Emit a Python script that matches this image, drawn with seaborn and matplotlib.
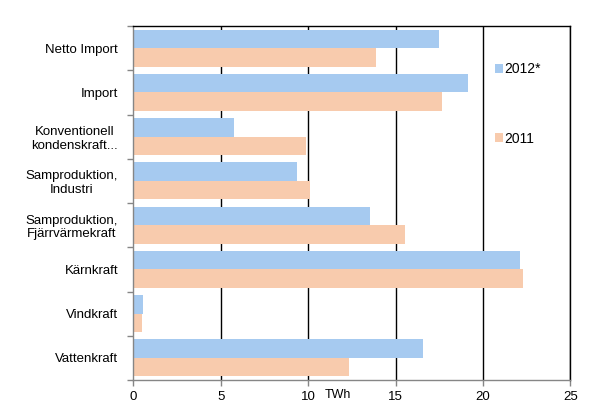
import matplotlib
matplotlib.use("Agg")
import matplotlib.pyplot as plt
import pandas as pd
import seaborn as sns

categories = [
    "Netto Import",
    "Import",
    "Konventionell\nkondenskraft...",
    "Samproduktion,\nIndustri",
    "Samproduktion,\nFjärrvärmekraft",
    "Kärnkraft",
    "Vindkraft",
    "Vattenkraft",
]
values_2012 = [17.5, 19.15, 5.75, 9.35, 13.55, 22.1, 0.55, 16.6]
values_2011 = [13.9, 17.65, 9.9, 10.1, 15.55, 22.3, 0.5, 12.35]
series = ["2012*", "2011"]
colors = ["#A6CAF0", "#F8CBAD"]
x_ticks = [0, 5, 10, 15, 20, 25]

df = pd.DataFrame({
    "category": categories * 2,
    "value": values_2012 + values_2011,
    "year": [series[0]] * len(categories) + [series[1]] * len(categories),
})

sns.set_style("white")
plt.rcParams["font.family"] = ["Liberation Sans", "DejaVu Sans"]
plt.rcParams["text.color"] = "black"
plt.rcParams["xtick.labelcolor"] = "black"
plt.rcParams["ytick.labelcolor"] = "black"

fig = plt.figure(figsize=(6.07, 4.18), dpi=100)
ax = fig.add_axes([0.2196, 0.0909, 0.72, 0.8469])

sns.barplot(data=df, y="category", x="value", hue="year", hue_order=series,
            palette=colors, orient="h", width=0.84, saturation=1,
            linewidth=0, ax=ax)

ax.set_xlim(0, 25)
ax.set_xticks(x_ticks)
ax.set_xlabel("")
ax.set_ylabel("")

# vertical black gridlines behind the bars
ax.set_axisbelow(True)
ax.xaxis.grid(True, color="black", linewidth=1)
ax.yaxis.grid(False)
ax.xaxis.get_gridlines()[0].set_visible(False)

for side in ["top", "right"]:
    ax.spines[side].set_visible(True)
    ax.spines[side].set_color("black")
    ax.spines[side].set_linewidth(1)
for side in ["left", "bottom"]:
    ax.spines[side].set_color("#868686")
    ax.spines[side].set_linewidth(1)

# y ticks sit on the category boundaries
ax.set_yticks([i - 0.5 for i in range(len(categories) + 1)], minor=True)
ax.tick_params(axis="y", which="major", length=0, pad=11, labelsize=9.5,
               labelcolor="black")
ax.tick_params(axis="y", which="minor", length=4, color="#868686", width=1, left=True)
ax.tick_params(axis="x", length=4, color="#868686", width=1, bottom=True,
               labelsize=9.5, pad=4, labelcolor="black")
for lbl in ax.get_yticklabels():
    lbl.set_multialignment("center")

ax.text(11.7, -0.026, "TWh", transform=ax.get_xaxis_transform(),
        ha="center", va="top", fontsize=9, color="black")

handles, labels = ax.get_legend_handles_labels()
leg = ax.legend(handles, labels, loc="center left",
                bbox_to_anchor=(495 / 607, 1 - 104 / 418),
                bbox_transform=fig.transFigure, frameon=False, fontsize=10,
                labelspacing=4.0, handlelength=0.6, handleheight=0.6,
                handletextpad=0.1, borderpad=0, borderaxespad=0)
for t in leg.get_texts():
    t.set_color("black")

fig.savefig("out.png", dpi=100)
plt.close(fig)
